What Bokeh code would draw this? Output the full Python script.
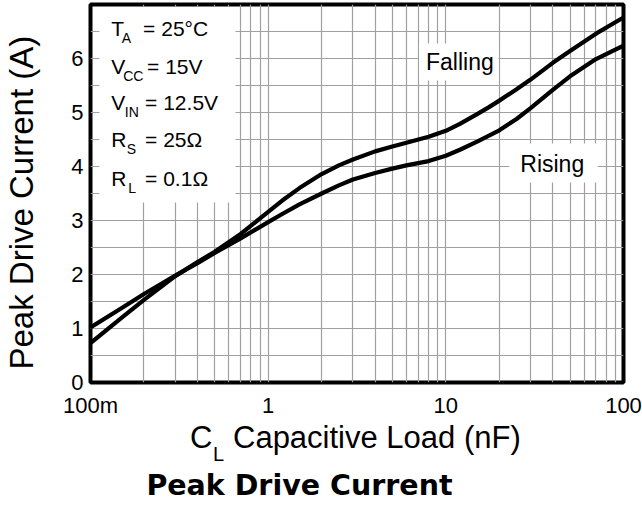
import math
from bokeh.plotting import figure
from bokeh.layouts import column
from bokeh.models import Range1d, FixedTicker, Label, BoxAnnotation, Div
from bokeh.embed import file_html
from bokeh.resources import INLINE

# ---- data ----
cap_nf = [0.1, 0.15, 0.2, 0.3, 0.4, 0.5, 0.7, 1, 1.2, 1.5, 2, 2.5, 3, 4, 5, 6, 8, 10, 12, 15, 17.5, 20, 25, 30, 40, 50, 70, 100]
falling = [0.73, 1.20, 1.53, 1.97, 2.23, 2.42, 2.75, 3.16, 3.37, 3.60, 3.86, 4.02, 4.13, 4.28, 4.37, 4.44, 4.55, 4.66, 4.79, 4.97, 5.10, 5.22, 5.43, 5.61, 5.92, 6.14, 6.46, 6.76]
rising = [1.02, 1.38, 1.64, 1.98, 2.21, 2.40, 2.67, 2.97, 3.12, 3.30, 3.50, 3.65, 3.76, 3.88, 3.96, 4.02, 4.10, 4.20, 4.31, 4.46, 4.57, 4.67, 4.88, 5.08, 5.42, 5.67, 5.99, 6.24]

xtick_vals = [0.1, 1, 10, 100]
xtick_labels = ["100m", "1", "10", "100"]
xminor_vals = [0.2, 0.3, 0.4, 0.5, 0.6, 0.7, 0.8, 0.9, 2, 3, 4, 5, 6, 7, 8, 9, 20, 30, 40, 50, 60, 70, 80, 90]
ytick_vals = [0, 1, 2, 3, 4, 5, 6]
yminor_vals = [0.5, 1.5, 2.5, 3.5, 4.5, 5.5, 6.5]

cond_main = ["T", "V", "V", "R", "R"]
cond_sub = ["A", "CC", "IN", "S", "L"]
cond_rest = ["= 25\u00b0C", "= 15V", "= 12.5V", "= 25\u03a9", "= 0.1\u03a9"]

title_text = "Peak Drive Current"
ylabel_text = "Peak Drive Current (A)"
xlabel_main = "C"
xlabel_sub = "L"
xlabel_rest = "Capacitive Load (nF)"

# ---- geometry (page pixels) ----
W = 642
PH = 420            # height of the plot figure
DH = 508 - PH       # height of the text strip below it
FL, FR, FT, FB = 86, 623, 4, 382
UNIT = 54.0
YMAX = (FB - FT) / UNIT
LDX, LDY = -2.0, -9.5      # label anchor correction
DDX, DDY = -5.0, -4.0      # div strip correction

def X(px):
    return 10 ** (-1 + 3 * (px - FL) / (FR - FL))

def Y(py):
    return (FB - py) / UNIT

FONT = "Liberation Sans"
GRID = "#a0a0a0"

p = figure(width=W, height=PH, x_axis_type="log",
           x_range=Range1d(0.1, 100), y_range=Range1d(0, YMAX),
           output_backend="svg", toolbar_location=None, title=None,
           min_border_left=FL, min_border_right=W - FR,
           min_border_top=FT, min_border_bottom=PH - FB)
p.background_fill_color = "white"
p.border_fill_color = "white"
p.outline_line_color = "black"
p.outline_line_width = 4

p.xaxis.ticker = FixedTicker(ticks=xtick_vals, minor_ticks=xminor_vals)
p.xaxis.major_label_overrides = {v: t for v, t in zip(xtick_vals, xtick_labels)}
p.yaxis.ticker = FixedTicker(ticks=ytick_vals, minor_ticks=yminor_vals)

for ax in (p.xaxis[0], p.yaxis[0]):
    ax.axis_line_color = None
    ax.major_tick_line_color = None
    ax.minor_tick_line_color = None
    ax.major_tick_out = 0
    ax.major_tick_in = 0
    ax.minor_tick_out = 0
    ax.major_label_text_font = FONT
    ax.major_label_text_font_size = "22px"
    ax.major_label_text_color = "black"
p.xaxis.major_label_standoff = 10
p.yaxis.major_label_standoff = 7

p.yaxis.axis_label = ylabel_text + "\u00a0\u00a0"
p.yaxis.axis_label_text_font = FONT
p.yaxis.axis_label_text_font_size = "33px"
p.yaxis.axis_label_text_font_style = "normal"
p.yaxis.axis_label_text_color = "black"
p.yaxis.axis_label_standoff = 28

for g in (p.xgrid[0], p.ygrid[0]):
    g.grid_line_color = GRID
    g.grid_line_width = 1.2
    g.minor_grid_line_color = GRID
    g.minor_grid_line_width = 1.2

# white boxes behind the text blocks
for l, r, t, b in [(95, 232, 6.5, 202), (417, 497, 43, 80), (508, 597, 143, 182)]:
    p.add_layout(BoxAnnotation(left=X(l), right=X(r), top=Y(t), bottom=Y(b),
                               fill_color="white", fill_alpha=1, line_color=None,
                               level="underlay"))

p.line(cap_nf, falling, line_color="black", line_width=4.2, line_join="round")
p.line(cap_nf, rising, line_color="black", line_width=4.2, line_join="round")

def lab(text, px, py, size):
    p.add_layout(Label(x=X(px + LDX), y=Y(py + LDY), text=text, text_font=FONT,
                       text_font_size=size, text_align="left",
                       text_baseline="alphabetic", text_color="black"))

# conditions block
baselines = [37.3, 75.0, 111.7, 148.0, 187.0]
sub_x = [119.5, 121.0, 122.5, 124.5, 126.0]
rest_x = [141.0, 145.0, 143.0, 143.0, 143.0]
for i in range(5):
    lab(cond_main[i], 109, baselines[i], "21px")
    lab(cond_sub[i], sub_x[i], baselines[i] + 9.5, "14px")
    lab(cond_rest[i], rest_x[i], baselines[i], "21px")

lab("Falling", 426, 70.7, "23px")
lab("Rising", 521, 173, "23px")

# text strip below the plot: x-axis title with subscript, and chart title
def span(text, left, baseline, size, font, weight="normal", width=None):
    top = baseline - 0.846 * size - PH + DDY
    extra = f"width:{width}px;text-align:center;" if width else ""
    return (f'<div style="position:absolute;left:{left + DDX:.1f}px;top:{top:.1f}px;{extra}'
            f"font-family:'{font}';font-size:{size}px;line-height:1;font-weight:{weight};"
            f'white-space:nowrap;color:#000;margin:0;padding:0;">{text}</div>')

html = (f'<div style="position:relative;width:{W}px;height:{DH}px;margin:0;padding:0;">'
        + span(xlabel_main, 190, 446.7, 31, FONT)
        + span(xlabel_sub, 213, 460.0, 20, FONT)
        + span(xlabel_rest, 233, 446.7, 31, FONT)
        + span(title_text, 0, 495.0, 28.5, "DejaVu Sans", weight="bold", width=599)
        + '</div>')
d = Div(text=html, width=W, height=DH)

layout = column(p, d, spacing=0)
open("out.html", "w").write(file_html(layout, INLINE))
